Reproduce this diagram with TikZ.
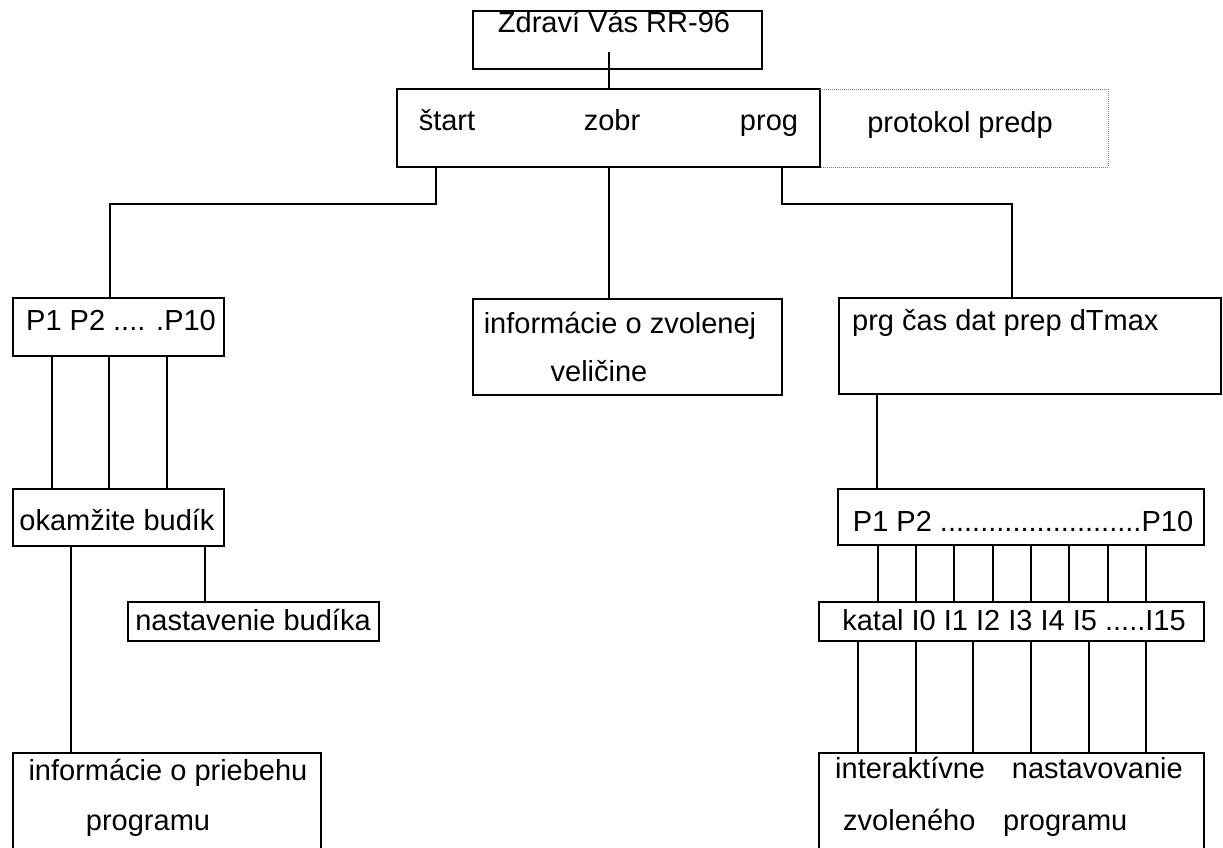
\documentclass[tikz,border=0pt]{standalone}
\usepackage{fontspec}
\setmainfont{Liberation Sans}
\begin{document}
\begin{tikzpicture}[x=1pt,y=-1pt,
  box/.style={draw,line width=2pt,inner sep=0pt,outer sep=0pt,anchor=north west},
  openbox/.style={draw=none,inner sep=0pt,outer sep=0pt,anchor=north west},
  wire/.style={line width=2pt},
  dotbox/.style={densely dotted,gray,line width=1pt},
  txt/.style={inner sep=0pt,font=\fontsize{29}{35}\selectfont,anchor=base}]
\useasboundingbox (0,0) rectangle (1223,847);
% boxes
\node[box,minimum width=289pt,minimum height=58pt] (top) at (473,11) {};
\node[box,minimum width=423pt,minimum height=78pt] (menu) at (397,89) {};
\node[openbox,minimum width=288pt,minimum height=78pt] (proto) at (820,89) {};
\node[box,minimum width=211pt,minimum height=58pt] (lp) at (13,298) {};
\node[box,minimum width=211pt,minimum height=57pt] (okam) at (13,489) {};
\node[box,minimum width=251pt,minimum height=39pt] (nast) at (128,602) {};
\node[openbox,minimum width=308pt,minimum height=96pt] (infL) at (13,753) {};
\node[box,minimum width=309pt,minimum height=96pt] (infM) at (473,299) {};
\node[box,minimum width=382pt,minimum height=96pt] (prg) at (839,298) {};
\node[box,minimum width=366pt,minimum height=56pt] (rp) at (838,489) {};
\node[box,minimum width=385pt,minimum height=39pt] (katal) at (819,602) {};
\node[openbox,minimum width=385pt,minimum height=96pt] (infR) at (819,753) {};
\draw[wire] (infL.south west) -- (infL.north west) -- (infL.north east) -- (infL.south east);
\draw[wire] (infR.south west) -- (infR.north west) -- (infR.north east) -- (infR.south east);
\draw[dotbox] (menu.north east) -- (proto.north east) -- (proto.south east) -- (menu.south east);
% texts
\node[txt] (t-top) at (614,32) {Zdraví Vás RR-96};
\node[txt] (t-start) at (447,130) {štart};
\node[txt] (t-zobr) at (612,130) {zobr};
\node[txt] (t-prog) at (769,130) {prog};
\node[txt] (t-proto) at (960,132) {protokol predp};
\node[txt] (t-lp) at (121,330) {P1 P2 .... .P10};
\node[txt] (t-okam) at (117,530) {okamžite budík};
\node[txt] (t-nast) at (253,630) {nastavenie budíka};
\node[txt] (t-infL1) at (168,780) {informácie o priebehu};
\node[txt] (t-infL2) at (148,830) {programu};
\node[txt] (t-infM1) at (620,333) {informácie o zvolenej};
\node[txt] (t-infM2) at (599,381) {veličine};
\node[txt,anchor=base west] (t-prg) at (852,330) {prg čas dat prep dTmax};
\node[txt] (t-rp) at (1023,531) {P1 P2 .........................P10};
\node[txt] (t-katal) at (1014,630) {katal I0 I1 I2 I3 I4 I5 .....I15};
\node[txt,anchor=base west] (t-infR1) at (835,778) {interaktívne};
\node[txt,anchor=base east] (t-infR2) at (1183,778) {nastavovanie};
\node[txt,anchor=base west] (t-infR3) at (843,830) {zvoleného};
\node[txt,anchor=base west] (t-infR4) at (1003,830) {programu};
% connectors
\coordinate (topstub) at (609,52);
\draw[wire] (topstub) -- (topstub |- menu.north);
\coordinate (lbend) at (110,204);
\coordinate (rbend) at (1012,204);
\draw[wire] (436,0 |- menu.south) |- (lbend) -- (lbend |- lp.north);
\draw[wire] (609,0 |- menu.south) -- (609,0 |- infM.north);
\draw[wire] (782,0 |- menu.south) |- (rbend) -- (rbend |- prg.north);
\foreach \x in {52,109,167} \draw[wire] (\x,0 |- lp.south) -- (\x,0 |- okam.north);
\draw[wire] (71,0 |- okam.south) -- (71,0 |- infL.north);
\draw[wire] (205,0 |- okam.south) -- (205,0 |- nast.north);
\draw[wire] (877,0 |- prg.south) -- (877,0 |- rp.north);
\foreach \x in {878,916,954,993,1031,1069,1108,1146} \draw[wire] (\x,0 |- rp.south) -- (\x,0 |- katal.north);
\foreach \x in {858,916,973,1031,1089,1146} \draw[wire] (\x,0 |- katal.south) -- (\x,0 |- infR.north);
\end{tikzpicture}
\end{document}
